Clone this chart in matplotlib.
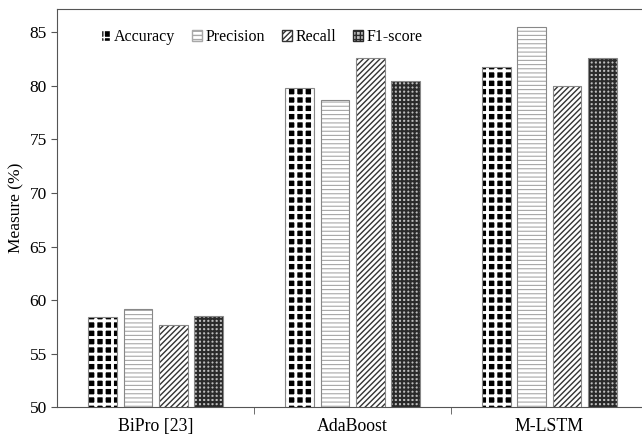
import numpy as np
import matplotlib
matplotlib.use("Agg")
import matplotlib.pyplot as plt
from matplotlib.patches import Patch

plt.rcParams['font.family'] = ['Liberation Serif', 'DejaVu Serif']

methods = ['BiPro [23]', 'AdaBoost', 'M-LSTM']
metrics = ['Accuracy', 'Precision', 'Recall', 'F1-score']
accuracy = [58.4, 79.8, 81.8]
precision = [59.2, 78.7, 85.5]
recall = [57.7, 82.6, 80.0]
f1 = [58.5, 80.5, 82.6]
series = [accuracy, precision, recall, f1]

# face, hatch colour, hatch, hatch linewidth
styles = [('black', 'white', '++', 2.1),
          ('white', '#a8a8a8', '----', 0.8),
          ('white', '#333333', '//////', 1.0),
          ('#bdbdbd', '#2a2a2a', '++++', 1.5)]

fig, ax = plt.subplots(figsize=(6.42, 4.37), dpi=100)
fig.subplots_adjust(left=0.089, right=1.0, top=0.98, bottom=0.068)

x = np.arange(len(methods))
width = 0.145
step = 0.18
for i, vals in enumerate(series):
    fc, hc, h, lw = styles[i]
    pos = x + (i - 1.5) * step
    with plt.rc_context({'hatch.linewidth': lw}):
        ax.bar(pos, vals, width, color=fc, edgecolor=hc, hatch=h, linewidth=0)
    ax.bar(pos, vals, width, fill=False, edgecolor='#888888', linewidth=0.8)

ax.set_ylim(50, 87.2)
ax.set_xlim(-0.5, 2.47)
ax.set_yticks(np.arange(50, 86, 5))
ax.set_ylabel('Measure (%)', fontsize=12.5)
ax.set_xticks(x)
ax.set_xticklabels(methods, fontsize=12.8)
ax.tick_params(axis='x', length=0, pad=8)
ax.set_xticks([0.5, 1.5], minor=True)
ax.tick_params(axis='x', which='minor', length=5, color='#555555')
ax.tick_params(axis='y', labelsize=12.5, length=4, color='#555555')
ax.spines['right'].set_visible(False)
for s in ['left', 'top', 'bottom']:
    ax.spines[s].set_color('#555555')

handles = []
for i, m in enumerate(metrics):
    fc, hc, h, lw = styles[i]
    with plt.rc_context({'hatch.linewidth': min(lw, 1.2)}):
        handles.append(Patch(facecolor=fc, edgecolor=hc, hatch=h, label=m))
ax.legend(handles=handles, ncol=4, loc='upper left', bbox_to_anchor=(0.05, 0.985),
          frameon=False, fontsize=11.5, handlelength=0.6, handleheight=0.65,
          handletextpad=0.25, columnspacing=1.05)

plt.savefig('out.png')
